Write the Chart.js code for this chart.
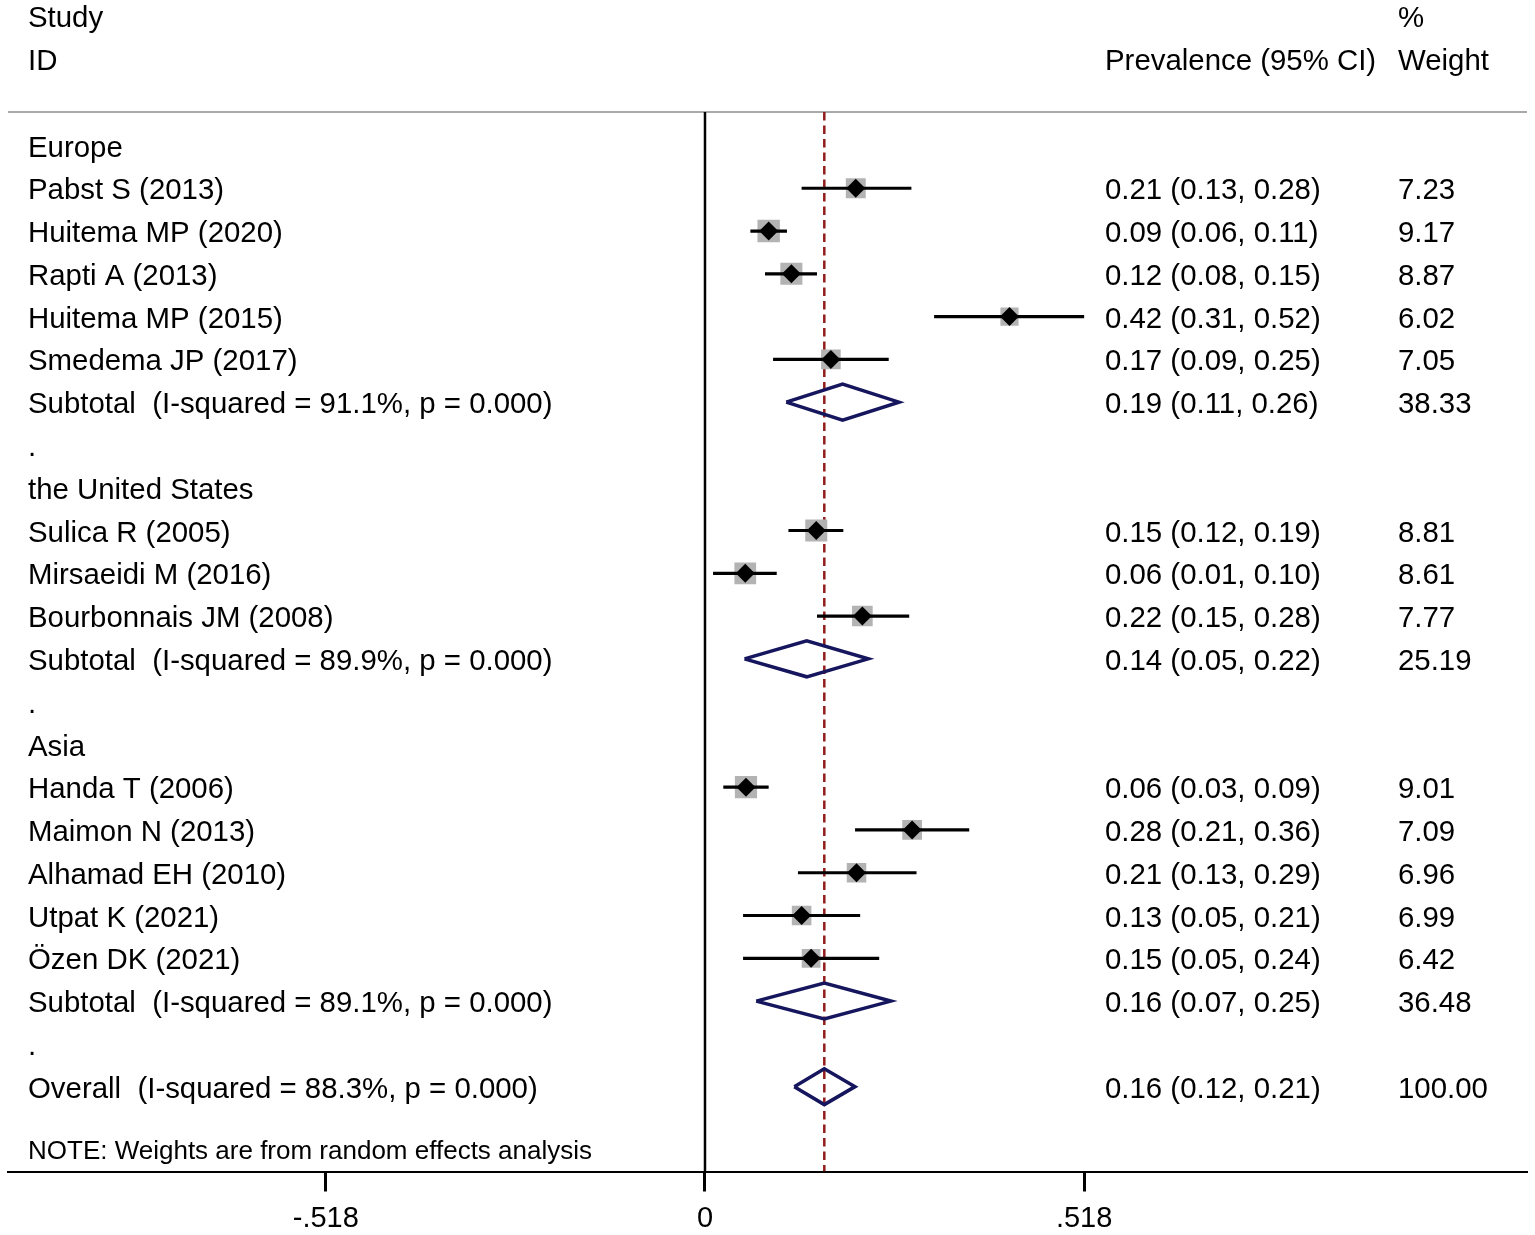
<!DOCTYPE html>
<html>
<head>
<meta charset="utf-8">
<title>Forest plot</title>
<script src="https://cdn.jsdelivr.net/npm/chart.js@4.4.0/dist/chart.umd.min.js"></script>
<style>
    html, body { margin: 0; padding: 0; background: #ffffff; }
    #forestChartCanvas { display: block; }
</style>
</head>
<body>
<canvas id="forestChartCanvas" width="1535" height="1235"></canvas>
<script>
// rows, top to bottom
const rowLabels = [
    'Europe', 'Pabst S (2013)', 'Huitema MP (2020)', 'Rapti A (2013)', 'Huitema MP (2015)', 'Smedema JP (2017)',
    'Subtotal  (I-squared = 91.1%, p = 0.000)', '.',
    'the United States', 'Sulica R (2005)', 'Mirsaeidi M (2016)', 'Bourbonnais JM (2008)',
    'Subtotal  (I-squared = 89.9%, p = 0.000)', '.',
    'Asia', 'Handa T (2006)', 'Maimon N (2013)', 'Alhamad EH (2010)', 'Utpat K (2021)', 'Özen DK (2021)',
    'Subtotal  (I-squared = 89.1%, p = 0.000)', '.',
    'Overall  (I-squared = 88.3%, p = 0.000)'
];
const rowKinds = [
    'group', 'study', 'study', 'study', 'study', 'study', 'pooled', 'gap',
    'group', 'study', 'study', 'study', 'pooled', 'gap',
    'group', 'study', 'study', 'study', 'study', 'study', 'pooled', 'gap',
    'pooled'
];
const estimates = [
    null, 0.206, 0.087, 0.118, 0.416, 0.172, 0.188, null,
    null, 0.152, 0.055, 0.215, 0.139, null,
    null, 0.056, 0.283, 0.207, 0.132, 0.145, 0.163, null,
    0.163
];
const lowerCI = [
    null, 0.132, 0.062, 0.082, 0.313, 0.093, 0.111, null,
    null, 0.114, 0.011, 0.153, 0.054, null,
    null, 0.025, 0.205, 0.127, 0.052, 0.052, 0.070, null,
    0.122
];
const upperCI = [
    null, 0.282, 0.112, 0.153, 0.518, 0.251, 0.265, null,
    null, 0.189, 0.098, 0.279, 0.223, null,
    null, 0.087, 0.361, 0.289, 0.212, 0.238, 0.254, null,
    0.205
];
const ciLabels = [
    '', '0.21 (0.13, 0.28)', '0.09 (0.06, 0.11)', '0.12 (0.08, 0.15)', '0.42 (0.31, 0.52)', '0.17 (0.09, 0.25)',
    '0.19 (0.11, 0.26)', '',
    '', '0.15 (0.12, 0.19)', '0.06 (0.01, 0.10)', '0.22 (0.15, 0.28)', '0.14 (0.05, 0.22)', '',
    '', '0.06 (0.03, 0.09)', '0.28 (0.21, 0.36)', '0.21 (0.13, 0.29)', '0.13 (0.05, 0.21)', '0.15 (0.05, 0.24)',
    '0.16 (0.07, 0.25)', '',
    '0.16 (0.12, 0.21)'
];
const weights = [
    null, 7.23, 9.17, 8.87, 6.02, 7.05, 38.33, null,
    null, 8.81, 8.61, 7.77, 25.19, null,
    null, 9.01, 7.09, 6.96, 6.99, 6.42, 36.48, null,
    100.00
];
const overallEstimate = 0.163;
const xTicks = [-0.518, 0, 0.518];
const headerLeft = ['Study', 'ID'];
const headerCI = ['', 'Prevalence (95% CI)'];
const headerWeight = ['%', 'Weight'];
const noteText = 'NOTE: Weights are from random effects analysis';

// plot frame (data units)
const X_MIN = -0.9522, X_MAX = 1.1230;
const Y_MIN = -3.401, Y_MAX = 23.984;
const RULE_ROW = -0.783;
const HEADER_ROWS = [-3.0, -2.0];
const NOTE_ROW = 23.48;
const DIAMOND_HALF = 0.42;

const FONT = '"Liberation Sans", Arial, Helvetica, sans-serif';
const COL_LABEL = 20, COL_CI = 1097, COL_WEIGHT = 1390;  // px from chart left

// build point sets
const boxPoints = [], markerPoints = [], ciPoints = [], diamondPoints = [];
rowKinds.forEach((kind, i) => {
    if (kind === 'study') {
        boxPoints.push({ x: estimates[i], y: i, w: weights[i] });
        markerPoints.push({ x: estimates[i], y: i });
        ciPoints.push({ x: lowerCI[i], y: i }, { x: upperCI[i], y: i }, { x: null, y: null });
    } else if (kind === 'pooled') {
        diamondPoints.push(
            { x: lowerCI[i], y: i },
            { x: estimates[i], y: i - DIAMOND_HALF },
            { x: upperCI[i], y: i },
            { x: estimates[i], y: i + DIAMOND_HALF },
            { x: lowerCI[i], y: i },
            { x: null, y: null }
        );
    }
});

const formatTick = v => (v === 0 ? '0' : String(v).replace('0.', '.'));
const boxRadius = c => (c.raw ? 7.4 * Math.sqrt(c.raw.w) / Math.SQRT2 : 0);

/**
 * Draws the text columns of the forest plot
 */
const forestTextPlugin = {
    id: 'forestText',
    afterDraw(chart) {
        const { ctx, chartArea, scales } = chart;
        const y = scales.y;
        const left = chartArea.left;
        ctx.save();
        ctx.fillStyle = '#000000';
        ctx.textAlign = 'left';
        ctx.textBaseline = 'middle';
        ctx.font = '29.4px ' + FONT;

        HEADER_ROWS.forEach((r, k) => {
            const py = y.getPixelForValue(r) + 2;
            ctx.fillText(headerLeft[k], left + COL_LABEL, py);
            ctx.fillText(headerCI[k], left + COL_CI, py);
            ctx.fillText(headerWeight[k], left + COL_WEIGHT, py);
        });

        rowLabels.forEach((label, i) => {
            const py = y.getPixelForValue(i) + 3;
            ctx.fillText(label, left + COL_LABEL, py);
            if (ciLabels[i]) ctx.fillText(ciLabels[i], left + COL_CI, py);
            if (weights[i] !== null) ctx.fillText(weights[i].toFixed(2), left + COL_WEIGHT, py);
        });

        ctx.font = '26px ' + FONT;
        ctx.fillText(noteText, left + COL_LABEL, y.getPixelForValue(NOTE_ROW) + 2);
        ctx.restore();
    }
};

const lineStyle = { showLine: true, pointRadius: 0, pointHoverRadius: 0, pointHitRadius: 0, spanGaps: false, tension: 0, fill: false };

const chart = new Chart(document.getElementById('forestChartCanvas'), {
    type: 'scatter',
    data: {
        datasets: [
            {
                ...lineStyle,
                data: [{ x: X_MIN, y: RULE_ROW }, { x: X_MAX, y: RULE_ROW }],
                borderColor: '#a9a9a9',
                borderWidth: 2,
                order: 6
            },
            {
                ...lineStyle,
                data: [{ x: 0, y: RULE_ROW }, { x: 0, y: Y_MAX }],
                borderColor: '#000000',
                borderWidth: 2.5,
                order: 5
            },
            {
                ...lineStyle,
                data: [{ x: overallEstimate, y: RULE_ROW }, { x: overallEstimate, y: Y_MAX }],
                borderColor: '#921c1c',
                borderWidth: 2.5,
                borderDash: [8.5, 5],
                order: 4
            },
            {
                data: boxPoints,
                pointStyle: 'rect',
                pointRadius: boxRadius,
                pointHoverRadius: boxRadius,
                backgroundColor: '#b3b3b3',
                borderWidth: 0,
                order: 3
            },
            {
                ...lineStyle,
                data: ciPoints,
                borderColor: '#000000',
                borderWidth: 3.2,
                borderCapStyle: 'butt',
                order: 2
            },
            {
                ...lineStyle,
                data: diamondPoints,
                borderColor: '#16165e',
                borderWidth: 3.5,
                borderJoinStyle: 'miter',
                order: 2
            },
            {
                data: markerPoints,
                pointStyle: 'rectRot',
                pointRadius: 9.5,
                pointHoverRadius: 9.5,
                backgroundColor: '#000000',
                borderWidth: 0,
                order: 1
            }
        ]
    },
    options: {
        responsive: false,
        animation: false,
        events: [],
        layout: { autoPadding: false, padding: { left: 8, right: 8, top: 0, bottom: 0 } },
        plugins: {
            legend: { display: false },
            tooltip: { enabled: false }
        },
        scales: {
            x: {
                type: 'linear',
                min: X_MIN,
                max: X_MAX,
                afterBuildTicks: axis => { axis.ticks = xTicks.map(v => ({ value: v })); },
                afterFit: axis => { axis.height = 63.5; },
                ticks: {
                    callback: v => formatTick(v),
                    color: '#000000',
                    font: { family: FONT, size: 29 },
                    padding: 10,
                    maxRotation: 0,
                    autoSkip: false
                },
                grid: {
                    drawOnChartArea: false,
                    drawTicks: true,
                    tickLength: 20,
                    tickWidth: 3,
                    tickColor: '#000000'
                },
                border: { display: true, color: '#000000', width: 2 }
            },
            y: {
                type: 'linear',
                reverse: true,
                min: Y_MIN,
                max: Y_MAX,
                display: false
            }
        }
    },
    plugins: [forestTextPlugin]
});
</script>
</body>
</html>
